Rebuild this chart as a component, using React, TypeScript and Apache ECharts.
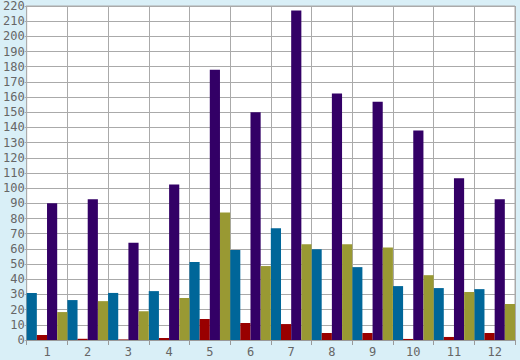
import React, { useEffect, useRef } from "react";
import * as echarts from "echarts";

const categories = ["1", "2", "3", "4", "5", "6", "7", "8", "9", "10", "11", "12"];
const seriesTeal = [31, 26.3, 31, 32.2, 51.3, 59.2, 73.6, 59.8, 48, 35.5, 34.2, 33.5];
const seriesRed = [3.3, 0.8, 0.3, 1.3, 13.8, 11.2, 10.5, 4.6, 4.6, 0.7, 2, 4.6];
const seriesPurple = [90, 92.7, 64, 102.5, 178, 150, 217, 162.3, 157, 138, 106.5, 92.7];
const seriesOlive = [18.4, 25.6, 19, 27.6, 84, 48.7, 63, 63, 61, 42.7, 31.6, 23.7];

const colors = ["#006699", "#990000", "#330066", "#999933"];

export default function App() {
  const ref = useRef<HTMLDivElement>(null);
  useEffect(() => {
    if (!ref.current) return;
    const chart = echarts.init(ref.current, null, { renderer: "svg" });
    const mk = (name: string, data: number[], color: string) => ({
      name,
      type: "bar",
      data,
      barGap: "0%",
      barCategoryGap: "0%",
      itemStyle: { color },
    });
    chart.setOption({
      animation: false,
      backgroundColor: "#d9eff7",
      textStyle: { fontFamily: "DejaVu Sans Mono" },
      grid: {
        left: 26,
        right: 5,
        top: 5,
        bottom: 20,
        show: true,
        backgroundColor: "#ffffff",
        borderColor: "#aaaaaa",
        borderWidth: 1,
      },
      xAxis: {
        type: "category",
        data: categories,
        axisLine: { show: true, lineStyle: { color: "#999999" } },
        axisTick: { show: true, length: 5, lineStyle: { color: "#999999" } },
        axisLabel: { color: "#666666", fontSize: 12, margin: 6, fontFamily: "DejaVu Sans Mono" },
        splitLine: { show: true, lineStyle: { color: "#aaaaaa", width: 1 } },
      },
      yAxis: {
        type: "value",
        min: 0,
        max: 220,
        interval: 10,
        axisLine: { show: true, lineStyle: { color: "#aaaaaa" } },
        axisTick: { show: true, length: 2, lineStyle: { color: "#aaaaaa" } },
        axisLabel: { color: "#666666", fontSize: 12, margin: 2, fontFamily: "DejaVu Sans Mono" },
        splitLine: { show: true, lineStyle: { color: "#aaaaaa", width: 1 } },
      },
      series: [
        mk("A", seriesTeal, colors[0]),
        mk("B", seriesRed, colors[1]),
        mk("C", seriesPurple, colors[2]),
        mk("D", seriesOlive, colors[3]),
      ],
    });
    return () => chart.dispose();
  }, []);
  return (
    <div
      ref={ref}
      style={{ position: "absolute", left: 0, top: 0, width: 520, height: 360 }}
    />
  );
}
